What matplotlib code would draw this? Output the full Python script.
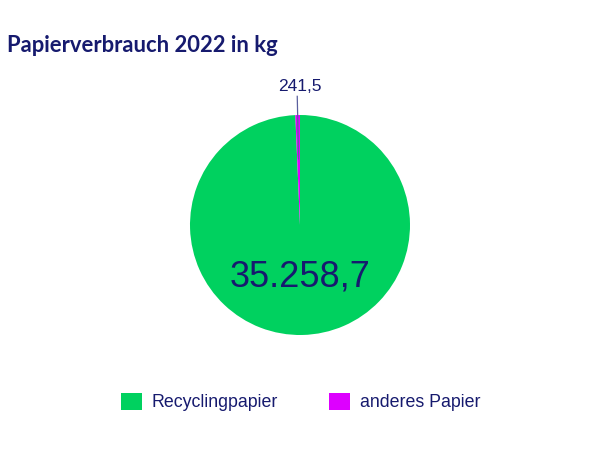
import numpy as np
import matplotlib.pyplot as plt
from matplotlib.patches import Patch

# Data
categories = ["Recyclingpapier", "anderes Papier"]
values = [35258.7, 241.5]
value_labels = ["35.258,7", "241,5"]
colors = ["#00D15F", "#DD00FF"]
navy = "#161A6E"

plt.rcParams["font.family"] = ["Liberation Sans", "DejaVu Sans"]

W, H = 599, 450
fig = plt.figure(figsize=(W / 100, H / 100), dpi=100)
fig.patch.set_facecolor("white")

# pie centered at (300, 225) px, radius 110 px
cx, cy, r = 300, 225, 110
ax = fig.add_axes([(cx - r) / W, (H - cy - r) / H, 2 * r / W, 2 * r / H])
ax.pie(values, colors=colors, startangle=90, counterclock=False,
       radius=1, wedgeprops=dict(linewidth=0))
ax.set_xlim(-1, 1)
ax.set_ylim(-1, 1)
ax.set_aspect("equal")
ax.axis("off")

# big label inside the green slice
ax.text(0, -0.47, value_labels[0], ha="center", va="center",
        fontsize=26, color=navy)

# small label with a leader line along the middle of the magenta slice
total = sum(values)
theta = np.deg2rad(90 + 360 * values[1] / total / 2)
ax.plot([0.6 * np.cos(theta), 1.17 * np.cos(theta)],
        [0.6 * np.sin(theta), 1.17 * np.sin(theta)],
        color="#5A5F9E", linewidth=0.9, clip_on=False)
ax.text(0, 1.26, value_labels[1], ha="center", va="center",
        fontsize=12.5, color=navy, clip_on=False)

# title
fig.text(7 / W, 1 - 45 / H, "Papierverbrauch 2022 in kg", ha="left", va="center",
         fontsize=15.8, fontweight="bold", color=navy,
         family=["Lato", "DejaVu Sans"])

# legend
handles = [Patch(facecolor=c, edgecolor="none") for c in colors]
fig.legend(handles, categories, loc="center", ncol=2,
           bbox_to_anchor=(0.502, 1 - 402 / H), frameon=False,
           fontsize=12.8, labelcolor=navy, handlelength=1.15, handleheight=1.15,
           handletextpad=0.55, columnspacing=2.9)

fig.savefig("out.png", dpi=100)
